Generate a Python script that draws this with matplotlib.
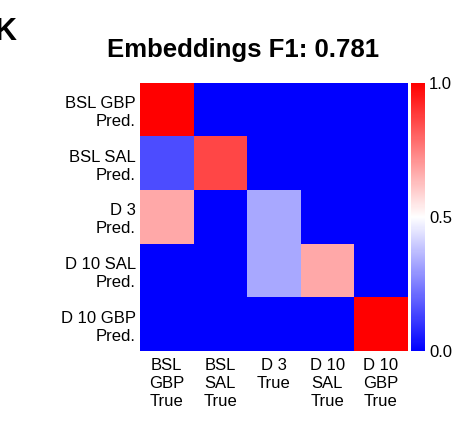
import numpy as np
import matplotlib
matplotlib.use("Agg")
import matplotlib.pyplot as plt

plt.rcParams['font.family'] = ['Liberation Sans', 'DejaVu Sans']

# rows = predicted, cols = true
pred_labels = ["BSL GBP\nPred.", "BSL SAL\nPred.", "D 3\nPred.", "D 10 SAL\nPred.", "D 10 GBP\nPred."]
true_labels = ["BSL\nGBP\nTrue", "BSL\nSAL\nTrue", "D 3\nTrue\n", "D 10\nSAL\nTrue", "D 10\nGBP\nTrue"]
row0 = [1.0, 0.0, 0.0, 0.0, 0.0]
row1 = [0.15, 0.86, 0.0, 0.0, 0.0]
row2 = [0.67, 0.0, 0.33, 0.0, 0.0]
row3 = [0.0, 0.0, 0.33, 0.67, 0.0]
row4 = [0.0, 0.0, 0.0, 0.0, 1.0]
cm = np.array([row0, row1, row2, row3, row4])

fig = plt.figure(figsize=(4.54, 4.28), dpi=100)
ax = fig.add_axes([0.308, 0.180, 0.590, 0.626])
cax = fig.add_axes([0.905, 0.180, 0.031, 0.626])

im = ax.imshow(cm, cmap='bwr', vmin=0, vmax=1, aspect='auto')
ax.set_xticks(range(5))
ax.set_xticklabels(true_labels, fontsize=12, va='top', linespacing=1.25)
ax.set_yticks(range(5))
ax.set_yticklabels(pred_labels, fontsize=12, ha='right', linespacing=1.25)
ax.tick_params(axis='x', length=0, pad=5)
ax.tick_params(axis='y', length=0, pad=3)
for s in ax.spines.values():
    s.set_visible(False)

fig.text(0.536, 0.867, "Embeddings F1: 0.781", fontsize=18.5, fontweight='bold',
         ha='center', va='baseline')

cb = fig.colorbar(im, cax=cax, ticks=[0.0, 0.5, 1.0])
cb.outline.set_visible(False)
cb.ax.tick_params(length=0, labelsize=12, pad=3)

fig.text(-0.012, 0.907, "K", fontsize=22, fontweight='bold', va='baseline')

fig.savefig("out.png", dpi=100)
